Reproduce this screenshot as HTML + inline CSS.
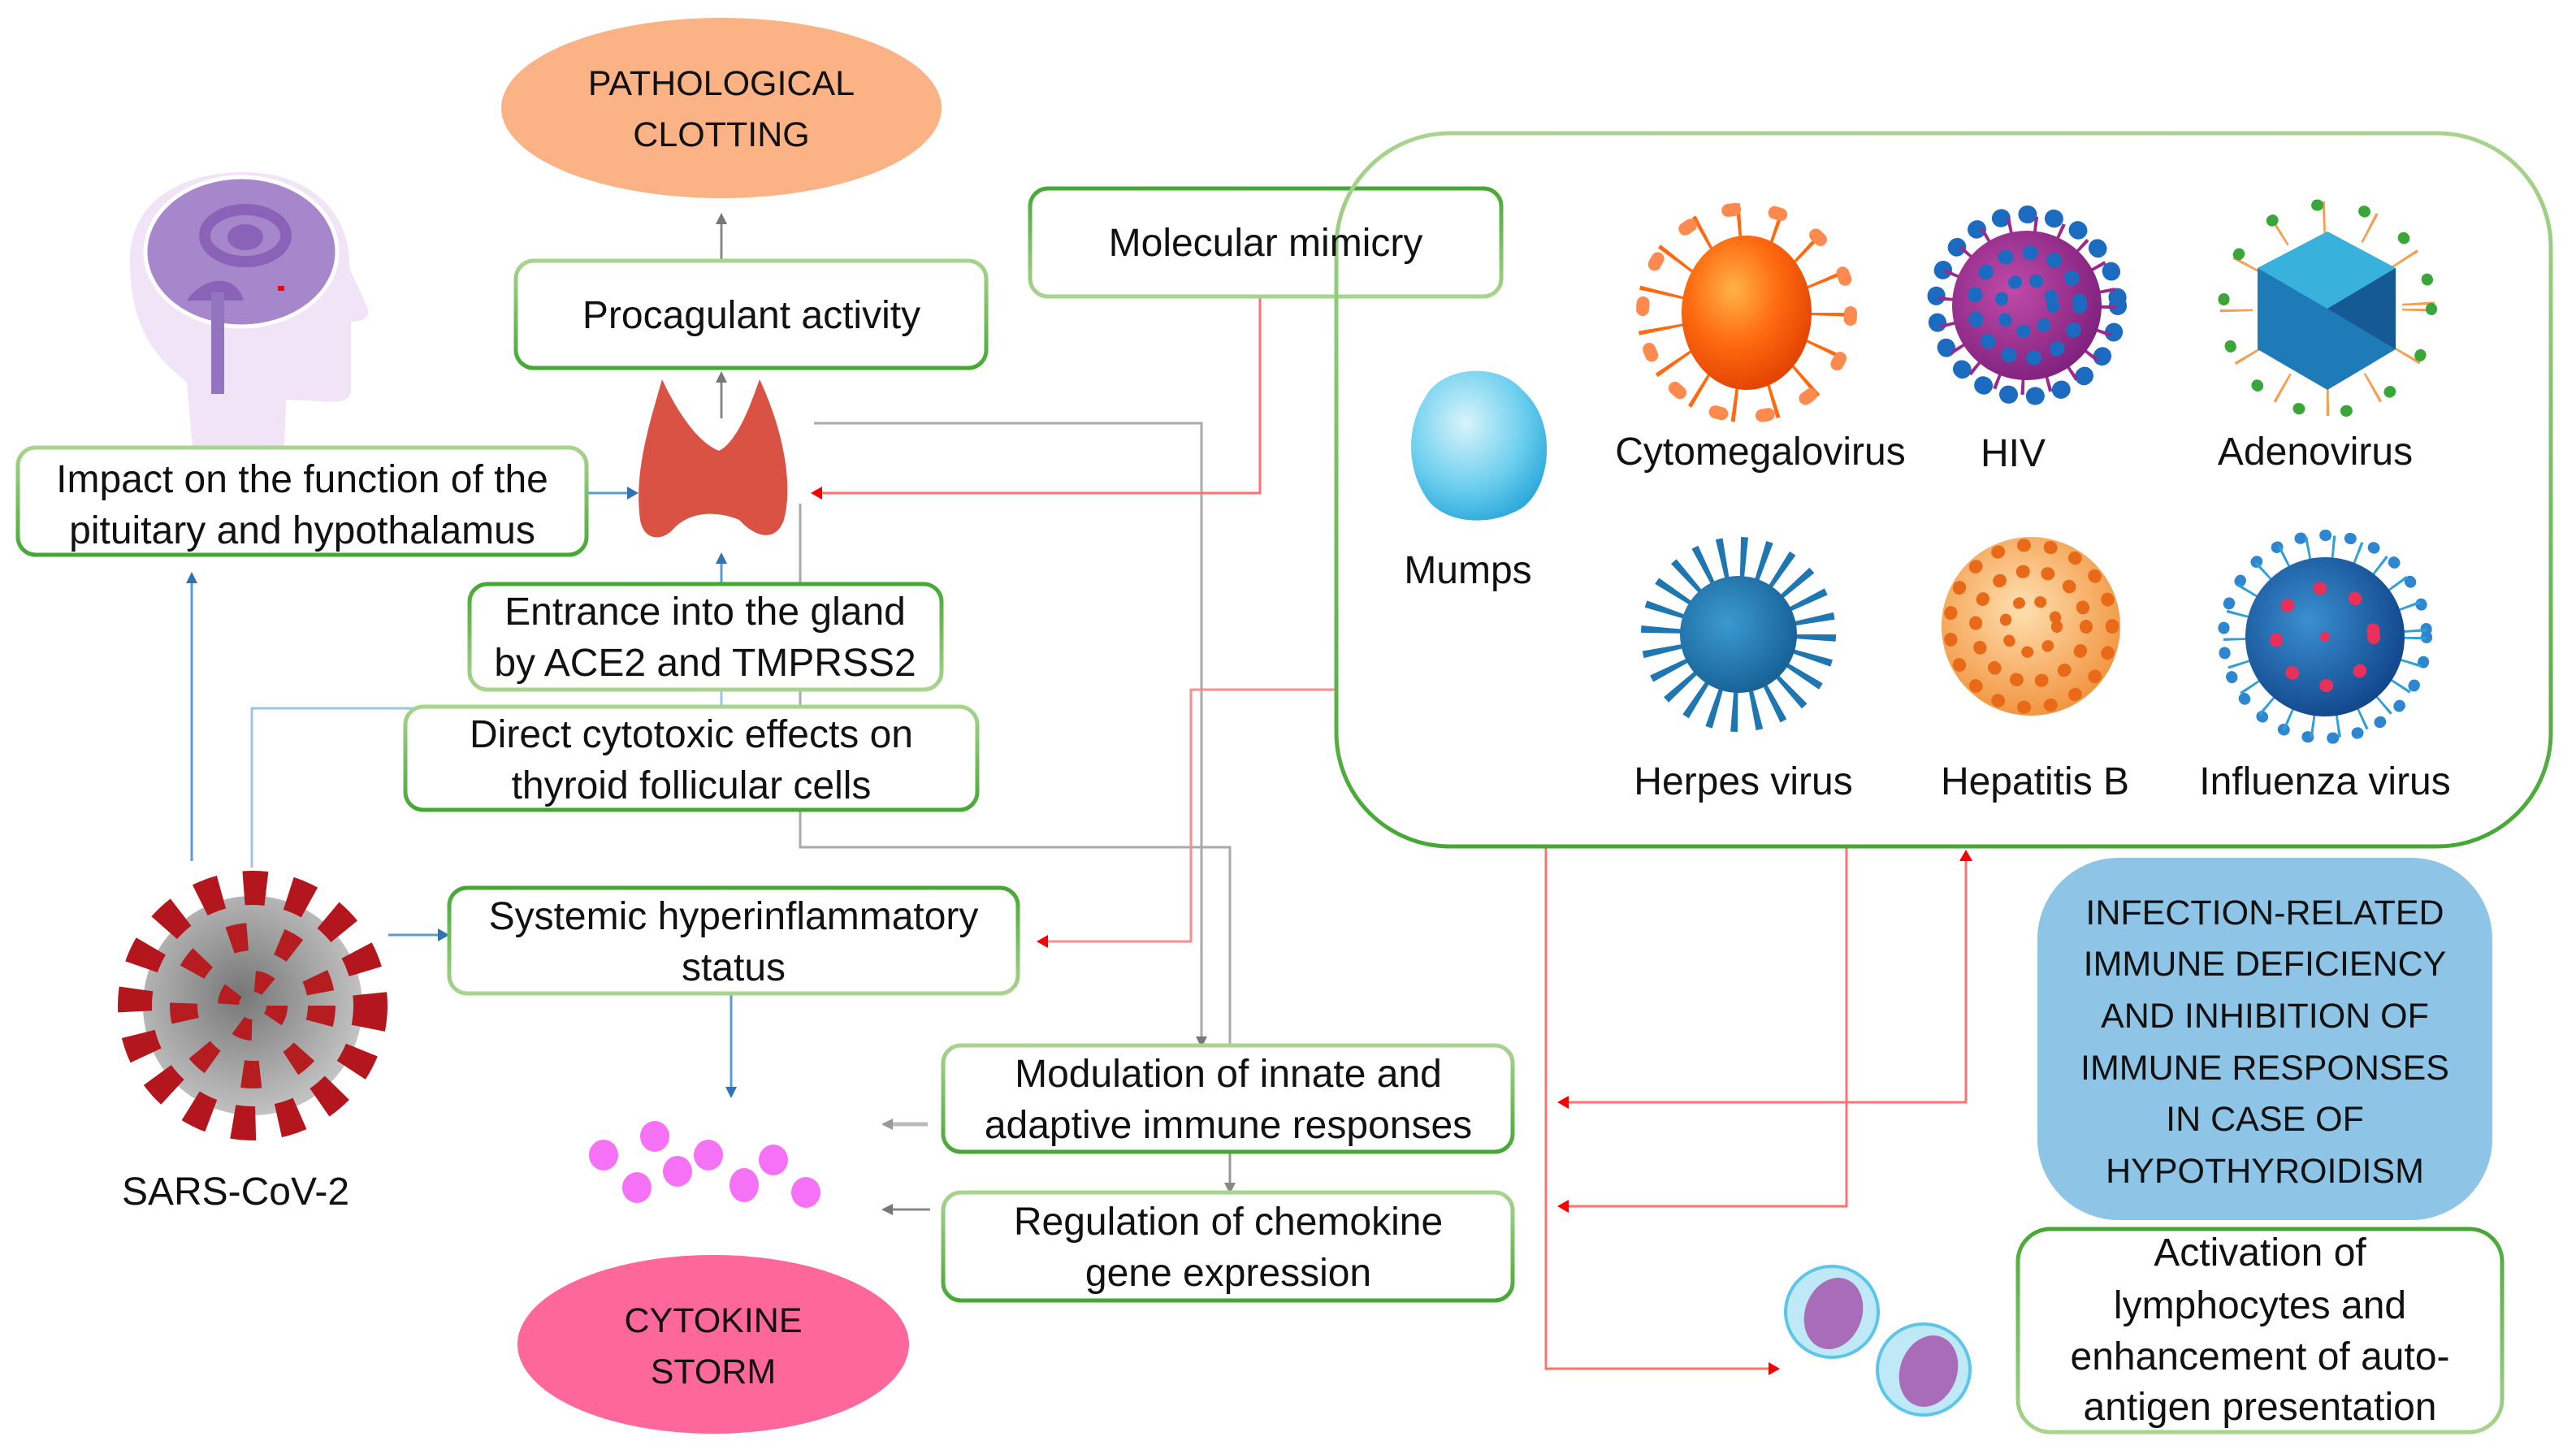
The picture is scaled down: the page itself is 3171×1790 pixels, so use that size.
<!DOCTYPE html>
<html><head><meta charset="utf-8"><style>
html,body{margin:0;padding:0;background:#fff;}
svg{display:block;}
text{font-family:"Liberation Sans",sans-serif;fill:#111;}
</style></head><body>
<svg width="3171" height="1790" viewBox="0 0 3171 1790" xmlns="http://www.w3.org/2000/svg">
<defs>
<linearGradient id="gb" x1="0" y1="0" x2="0" y2="1">
<stop offset="0" stop-color="#a9d48f"/><stop offset="1" stop-color="#45a833"/></linearGradient>
<linearGradient id="gb2" x1="0" y1="0" x2="0" y2="1">
<stop offset="0" stop-color="#45a833"/><stop offset="1" stop-color="#a9d48f"/></linearGradient>
<radialGradient id="cmv" cx="0.4" cy="0.35" r="0.7"><stop offset="0" stop-color="#ffb347"/><stop offset="0.5" stop-color="#ff6a10"/><stop offset="1" stop-color="#e04000"/></radialGradient>
<radialGradient id="hiv" cx="0.4" cy="0.4" r="0.7"><stop offset="0" stop-color="#c04aa8"/><stop offset="1" stop-color="#7a1d7a"/></radialGradient>
<radialGradient id="mum" cx="0.4" cy="0.35" r="0.7"><stop offset="0" stop-color="#d8f4fb"/><stop offset="0.6" stop-color="#6fd0ef"/><stop offset="1" stop-color="#2aa8dc"/></radialGradient>
<radialGradient id="hep" cx="0.45" cy="0.4" r="0.7"><stop offset="0" stop-color="#ffe0b0"/><stop offset="1" stop-color="#f08a30"/></radialGradient>
<radialGradient id="flu" cx="0.4" cy="0.4" r="0.7"><stop offset="0" stop-color="#3a8fd0"/><stop offset="1" stop-color="#0d3f86"/></radialGradient>
<radialGradient id="her" cx="0.4" cy="0.4" r="0.7"><stop offset="0" stop-color="#3a9ad0"/><stop offset="1" stop-color="#135b90"/></radialGradient>
<radialGradient id="sars" cx="0.45" cy="0.45" r="0.6"><stop offset="0" stop-color="#777"/><stop offset="1" stop-color="#c8c8c8"/></radialGradient>
</defs>

<!-- ellipses -->
<ellipse cx="888" cy="133" rx="271" ry="111" fill="#fbb386"/>
<text x="888" y="117" font-size="43" text-anchor="middle">PATHOLOGICAL</text>
<text x="888" y="180" font-size="43" text-anchor="middle">CLOTTING</text>
<ellipse cx="878" cy="1655" rx="241" ry="110" fill="#fd6799"/>
<text x="878" y="1640" font-size="43" text-anchor="middle">CYTOKINE</text>
<text x="878" y="1703" font-size="43" text-anchor="middle">STORM</text>

<!-- head -->
<path d="M237,551 L230,470 C175,430 160,380 160,320 C160,250 220,212 300,212 C380,212 432,260 430,330 L452,378 C458,392 445,396 432,396 L432,480 C432,494 420,496 395,494 L352,492 L350,551 Z" fill="#f0e4f6"/>
<ellipse cx="297" cy="310" rx="118" ry="92" fill="#a787cb" stroke="#fff" stroke-width="5"/>
<path d="M230,370 C250,340 290,335 300,370 Z" fill="#8a63b8"/>
<ellipse cx="302" cy="290" rx="50" ry="32" fill="none" stroke="#8a63b8" stroke-width="14"/>
<ellipse cx="302" cy="292" rx="22" ry="16" fill="#8a63b8"/>
<rect x="260" y="360" width="16" height="125" fill="#9274c0"/>
<rect x="342" y="352" width="8" height="6" fill="#ff0000"/>

<!-- thyroid -->
<path d="M815,467 C800,520 780,580 788,640 C792,665 815,668 830,650 C850,630 880,628 910,640 C930,662 955,668 965,640 C978,590 960,520 935,467 C920,510 905,545 885,555 C860,545 835,510 815,467Z" fill="#d95244"/>

<!-- connectors -->
<g fill="none" stroke-width="3">
<line x1="888" y1="321" x2="888" y2="270" stroke="#888"/>
<line x1="888" y1="515" x2="888" y2="465" stroke="#888"/>
<polyline points="1002,521 1479,521 1479,1280" stroke="#aaa"/>
<polyline points="985,620 985,1043 1514,1043 1514,1286" stroke="#aaa"/>
<line x1="1514" y1="1418" x2="1514" y2="1464" stroke="#999"/>
<polyline points="1551,365 1551,607 1005,607" stroke="#ff7070"/>
<polyline points="1645,849 1466,849 1466,1159 1285,1159" stroke="#ff8a8a"/>
<line x1="722" y1="607" x2="780" y2="607" stroke="#5b9bd5"/>
<line x1="888" y1="718" x2="888" y2="688" stroke="#5b9bd5"/>
<polyline points="888,850 888,872 310,872 310,1068" stroke="#9dc3e6"/>
<line x1="236" y1="1060" x2="236" y2="712" stroke="#5b9bd5"/>
<line x1="478" y1="1151" x2="548" y2="1151" stroke="#5b9bd5"/>
<line x1="900" y1="1223" x2="900" y2="1340" stroke="#5b9bd5"/>
<line x1="1142" y1="1384" x2="1095" y2="1384" stroke="#bbb" stroke-width="5"/>
<line x1="1145" y1="1489" x2="1095" y2="1489" stroke="#888"/>
<polyline points="1903,1042 1903,1685 2183,1685" stroke="#ff7070"/>
<polyline points="2273,1042 2273,1485 1925,1485" stroke="#ff7070"/>
<polyline points="2420,1060 2420,1357 1925,1357" stroke="#ff7070"/>
</g>
<!-- arrowheads -->
<g>
<path d="M888,262 l-7,14 h14z" fill="#777"/>
<path d="M888,457 l-7,14 h14z" fill="#777"/>
<path d="M1479,1290 l-7,-14 h14z" fill="#777"/>
<path d="M1514,1470 l-7,-14 h14z" fill="#888"/>
<path d="M1085,1384 l14,-7 v14z" fill="#999"/>
<path d="M1085,1489 l14,-7 v14z" fill="#777"/>
<path d="M998,607 l14,-8 v16z" fill="#f00"/>
<path d="M1276,1159 l14,-8 v16z" fill="#f00"/>
<path d="M786,607 l-14,-8 v16z" fill="#2e75b6"/>
<path d="M888,680 l-7,14 h14z" fill="#2e75b6"/>
<path d="M236,704 l-7,14 h14z" fill="#2e75b6"/>
<path d="M553,1151 l-14,-8 v16z" fill="#2e75b6"/>
<path d="M900,1352 l-7,-14 h14z" fill="#2e75b6"/>
<path d="M2191,1685 l-14,-8 v16z" fill="#f00"/>
<path d="M1917,1485 l14,-8 v16z" fill="#f00"/>
<path d="M1917,1357 l14,-8 v16z" fill="#f00"/>
<path d="M2420,1046 l-8,14 h16z" fill="#f00"/>
</g>

<!-- boxes -->
<g fill="#fff" stroke="url(#gb)" stroke-width="5">
<rect x="635" y="321" width="579" height="132" rx="22"/>
<rect x="1268" y="232" width="580" height="133" rx="22" stroke="url(#gb2)"/>
<rect x="22" y="551" width="700" height="132" rx="22"/>
<rect x="578" y="719" width="581" height="130" rx="22" stroke="url(#gb2)"/>
<rect x="499" y="870" width="704" height="127" rx="22"/>
<rect x="553" y="1093" width="700" height="130" rx="22" stroke="url(#gb2)"/>
<rect x="1161" y="1287" width="701" height="131" rx="22"/>
<rect x="1161" y="1468" width="701" height="133" rx="22"/>
<rect x="2484" y="1513" width="596" height="250" rx="40" stroke="url(#gb2)"/>
<rect x="1645" y="164" width="1495" height="878" rx="140" fill="none"/>
</g>
<rect x="2508" y="1056" width="560" height="446" rx="100" fill="#8ec4e6"/>

<g font-size="48" text-anchor="middle">
<text x="925" y="404">Procagulant activity</text>
<text x="1558" y="315">Molecular mimicry</text>
<text x="372" y="606">Impact on the function of the</text>
<text x="372" y="669">pituitary and hypothalamus</text>
<text x="868" y="769">Entrance into the gland</text>
<text x="868" y="832">by ACE2 and TMPRSS2</text>
<text x="851" y="920">Direct cytotoxic effects on</text>
<text x="851" y="983">thyroid follicular cells</text>
<text x="903" y="1144">Systemic hyperinflammatory</text>
<text x="903" y="1207">status</text>
<text x="1512" y="1338">Modulation of innate and</text>
<text x="1512" y="1401">adaptive immune responses</text>
<text x="1512" y="1520">Regulation of chemokine</text>
<text x="1512" y="1583">gene expression</text>
<text x="2782" y="1558">Activation of</text>
<text x="2782" y="1623">lymphocytes and</text>
<text x="2782" y="1686">enhancement of auto-</text>
<text x="2782" y="1748">antigen presentation</text>
<text x="290" y="1483">SARS-CoV-2</text>
<text x="2167" y="572">Cytomegalovirus</text>
<text x="2478" y="574">HIV</text>
<text x="2850" y="572">Adenovirus</text>
<text x="1807" y="718">Mumps</text>
<text x="2146" y="978">Herpes virus</text>
<text x="2505" y="978">Hepatitis B</text>
<text x="2862" y="978">Influenza virus</text>
</g>
<g font-size="43" text-anchor="middle">
<text x="2788" y="1138">INFECTION-RELATED</text>
<text x="2788" y="1201">IMMUNE DEFICIENCY</text>
<text x="2788" y="1265">AND INHIBITION OF</text>
<text x="2788" y="1329">IMMUNE RESPONSES</text>
<text x="2788" y="1392">IN CASE OF</text>
<text x="2788" y="1456">HYPOTHYROIDISM</text>
</g>

<!-- viruses -->
<circle cx="2150" cy="385" r="105" fill="none" stroke="#ff6a10" stroke-width="60" stroke-dasharray="4 40"/>
<circle cx="2150" cy="385" r="128" fill="none" stroke="#ff8a50" stroke-width="16" stroke-dasharray="8 50" stroke-linecap="round"/>
<ellipse cx="2150" cy="385" rx="80" ry="95" fill="url(#cmv)"/>
<circle cx="2495" cy="376" r="112" fill="none" stroke="#1b6cc0" stroke-width="22" stroke-dasharray="1 32" stroke-linecap="round"/>
<circle cx="2495" cy="376" r="100" fill="none" stroke="#9a2a8f" stroke-width="20" stroke-dasharray="4 28"/>
<circle cx="2495" cy="376" r="92" fill="url(#hiv)"/>
<circle cx="2495" cy="376" r="65" fill="none" stroke="#1b6cc0" stroke-width="18" stroke-dasharray="1 30" stroke-linecap="round"/>
<circle cx="2495" cy="376" r="32" fill="none" stroke="#1b6cc0" stroke-width="16" stroke-dasharray="1 26" stroke-linecap="round"/>
<circle cx="2865" cy="380" r="112" fill="none" stroke="#f5a050" stroke-width="40" stroke-dasharray="3 55"/>
<circle cx="2865" cy="380" r="128" fill="none" stroke="#3aa63a" stroke-width="14" stroke-dasharray="1 58" stroke-linecap="round"/>
<polygon points="2865,285 2949,330 2949,430 2865,480 2779,430 2779,330" fill="#1e7bb8"/>
<polygon points="2865,285 2949,330 2865,380 2779,330" fill="#38b2dc"/>
<polygon points="2865,380 2949,330 2949,430" fill="#155a95"/>
<path d="M1754,490 C1774,450 1844,445 1874,480 C1919,520 1909,600 1874,625 C1834,650 1774,645 1754,610 C1729,570 1734,520 1754,490Z" fill="url(#mum)"/>
<circle cx="2140" cy="781" r="95" fill="none" stroke="#1e77b0" stroke-width="50" stroke-dasharray="7 18"/>
<circle cx="2140" cy="781" r="72" fill="url(#her)"/>
<circle cx="2500" cy="771" r="110" fill="url(#hep)"/>
<circle cx="2500" cy="771" r="100" fill="none" stroke="#e86a18" stroke-width="16" stroke-dasharray="1 32" stroke-linecap="round"/>
<circle cx="2500" cy="771" r="68" fill="none" stroke="#e86a18" stroke-width="16" stroke-dasharray="1 30" stroke-linecap="round"/>
<circle cx="2500" cy="771" r="32" fill="none" stroke="#e86a18" stroke-width="14" stroke-dasharray="1 26" stroke-linecap="round"/>
<circle cx="2862" cy="784" r="125" fill="none" stroke="#2f86d0" stroke-width="14" stroke-dasharray="1 30" stroke-linecap="round"/>
<circle cx="2862" cy="784" r="110" fill="none" stroke="#30a0d8" stroke-width="30" stroke-dasharray="3 28"/>
<circle cx="2862" cy="784" r="98" fill="url(#flu)"/>
<circle cx="2862" cy="784" r="60" fill="none" stroke="#e8305a" stroke-width="16" stroke-dasharray="1 45" stroke-linecap="round"/>
<circle cx="2862" cy="784" r="6" fill="#e8305a"/>
<!-- SARS -->
<circle cx="311" cy="1238" r="135" fill="url(#sars)"/>
<circle cx="311" cy="1238" r="145" fill="none" stroke="#b3161c" stroke-width="42" stroke-dasharray="28 28"/>
<circle cx="311" cy="1238" r="85" fill="none" stroke="#b51d20" stroke-width="34" stroke-dasharray="22 40"/>
<circle cx="311" cy="1238" r="30" fill="none" stroke="#b51d20" stroke-width="26" stroke-dasharray="18 30"/>
<g fill="#f571f5">
<ellipse cx="743" cy="1422" rx="18" ry="19"/><ellipse cx="806" cy="1399" rx="18" ry="19"/>
<ellipse cx="784" cy="1462" rx="18" ry="19"/><ellipse cx="834" cy="1442" rx="18" ry="19"/>
<ellipse cx="872" cy="1422" rx="18" ry="19"/><ellipse cx="916" cy="1459" rx="18" ry="21"/>
<ellipse cx="952" cy="1428" rx="18" ry="19"/><ellipse cx="992" cy="1468" rx="18" ry="19"/>
</g>
<ellipse cx="2255" cy="1615" rx="57" ry="56" fill="#bfe9f7" stroke="#5cc6ea" stroke-width="4"/>
<ellipse cx="2257" cy="1617" rx="35" ry="45" fill="#a86cb8" transform="rotate(20 2257 1617)"/>
<ellipse cx="2368" cy="1686" rx="57" ry="56" fill="#bfe9f7" stroke="#5cc6ea" stroke-width="4"/>
<ellipse cx="2374" cy="1688" rx="35" ry="45" fill="#a86cb8" transform="rotate(20 2374 1688)"/>
</svg>
</body></html>
